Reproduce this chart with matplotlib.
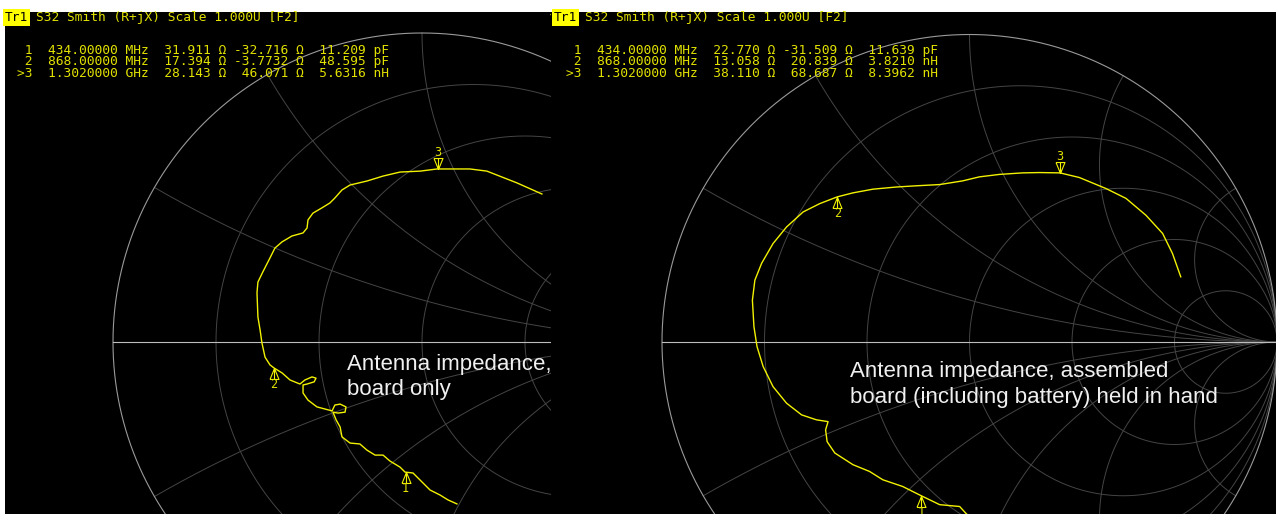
import numpy as np
import matplotlib.pyplot as plt
from matplotlib.path import Path

WIDTH, HEIGHT = 1276, 514
TOP = 12  # white strip above both screenshots

Z0 = 50.0

# Smith chart grid (normalised resistance circles, reactance arcs)
GRID_R = [0.2, 0.5, 1.0, 2.0, 5.0]
GRID_X = [0.268, 0.577, 1.0, 1.732, 3.732]

marker_ids = [" 1", " 2", ">3"]

# marker readout, bare board
board_freq = ["434.00000 MHz", "868.00000 MHz", "1.3020000 GHz"]
board_r = ["31.911", "17.394", "28.143"]
board_x = ["-32.716", "-3.7732", "46.071"]
board_lc = ["11.209 pF", "48.595 pF", "5.6316 nH"]

# marker readout, assembled board held in hand
hand_freq = ["434.00000 MHz", "868.00000 MHz", "1.3020000 GHz"]
hand_r = ["22.770", "13.058", "38.110"]
hand_x = ["-31.509", "20.839", "68.687"]
hand_lc = ["11.639 pF", "3.8210 nH", "8.3962 nH"]

# swept reflection coefficient, low to high frequency
board_gamma_re = [0.113, 0.084, 0.058, 0.026, -0.006, -0.029, -0.055, -0.071, -0.104, -0.126,
                  -0.152, -0.178, -0.201, -0.233, -0.259, -0.265, -0.278, -0.288, -0.272, -0.249,
                  -0.246, -0.265, -0.282, -0.291, -0.340, -0.369, -0.385, -0.385, -0.372, -0.349,
                  -0.343, -0.356, -0.379, -0.395, -0.427, -0.453, -0.479, -0.492, -0.508, -0.518,
                  -0.524, -0.531, -0.534, -0.531, -0.515, -0.492, -0.476, -0.453, -0.421, -0.385,
                  -0.372, -0.369, -0.353, -0.324, -0.298, -0.282, -0.259, -0.233, -0.178, -0.126,
                  -0.071, -0.006, 0.049, 0.155, 0.210, 0.307, 0.388]
board_gamma_im = [-0.524, -0.511, -0.495, -0.479, -0.447, -0.424, -0.421, -0.405, -0.385, -0.366,
                  -0.366, -0.350, -0.330, -0.327, -0.307, -0.275, -0.252, -0.227, -0.230, -0.227,
                  -0.210, -0.201, -0.204, -0.223, -0.210, -0.188, -0.165, -0.139, -0.136, -0.129,
                  -0.117, -0.113, -0.123, -0.136, -0.123, -0.100, -0.084, -0.074, -0.049, -0.003,
                  0.039, 0.081, 0.159, 0.194, 0.227, 0.272, 0.304, 0.324, 0.343, 0.353,
                  0.369, 0.395, 0.417, 0.434, 0.450, 0.466, 0.492, 0.508, 0.521, 0.537,
                  0.550, 0.553, 0.560, 0.560, 0.553, 0.515, 0.479]

hand_gamma_re = [0.020, -0.011, -0.032, -0.097, -0.130, -0.157, -0.217, -0.282, -0.325, -0.379,
                 -0.438, -0.463, -0.468, -0.460, -0.498, -0.546, -0.595, -0.639, -0.671, -0.691,
                 -0.701, -0.706, -0.698, -0.676, -0.639, -0.595, -0.541, -0.487, -0.430, -0.379,
                 -0.314, -0.238, -0.173, -0.097, -0.022, 0.032, 0.097, 0.173, 0.227, 0.294,
                 0.357, 0.444, 0.509, 0.574, 0.628, 0.660, 0.687]
hand_gamma_im = [-0.585, -0.558, -0.535, -0.529, -0.513, -0.500, -0.470, -0.448, -0.421, -0.399,
                 -0.361, -0.324, -0.286, -0.259, -0.253, -0.237, -0.199, -0.145, -0.080, -0.015,
                 0.050, 0.136, 0.201, 0.256, 0.320, 0.374, 0.423, 0.450, 0.472, 0.485,
                 0.497, 0.504, 0.508, 0.512, 0.524, 0.537, 0.545, 0.550, 0.551, 0.550,
                 0.535, 0.499, 0.467, 0.412, 0.353, 0.288, 0.212]

TRACE_YELLOW = "#f2f200"
TEXT_YELLOW = "#e2e200"
GRID_GRAY = "#454545"
MONO = "DejaVu Sans Mono"

# marker glyphs: apex sits on the trace point
M, L = Path.MOVETO, Path.LINETO
TRI_UP = Path([(-4.5, -11), (4.5, -11), (0, 0), (-4.5, -11), (0, 0), (0, -11)],
              [M, L, L, L, M, L])
TRI_DOWN = Path([(-4.5, 11), (4.5, 11), (0, 0), (-4.5, 11), (0, 0), (0, 11)],
                [M, L, L, L, M, L])


def fx(px):
    return px / WIDTH


def fy(py):
    return 1 - py / HEIGHT


def to_gamma(r_ohm, x_ohm):
    z = complex(r_ohm, x_ohm) / Z0
    g = (z - 1) / (z + 1)
    return g.real, g.imag


def draw_grid(ax):
    t = np.linspace(0, 2 * np.pi, 721)
    for r in GRID_R:
        c, rad = r / (r + 1), 1 / (r + 1)
        ax.plot(c + rad * np.cos(t), rad * np.sin(t), color=GRID_GRAY, lw=0.7)
    rr = np.concatenate([[0], np.logspace(-3, 4, 900)])
    for x in GRID_X:
        for sign in (1, -1):
            z = rr + 1j * sign * x
            g = (z - 1) / (z + 1)
            ax.plot(g.real, g.imag, color=GRID_GRAY, lw=0.7)
    ax.plot(np.cos(t), np.sin(t), color="#9a9a9a", lw=0.8)
    ax.plot([-1, 1], [0, 0], color="#bdbdbd", lw=0.8)


def add_panel(left_px, right_px, cx, cy, radius):
    ax = fig.add_axes([fx(left_px), 0, fx(right_px - left_px), (HEIGHT - TOP) / HEIGHT])
    ax.set_facecolor("black")
    ax.set_xlim((left_px - cx) / radius, (right_px - cx) / radius)
    ax.set_ylim((cy - HEIGHT) / radius, (cy - TOP) / radius)
    ax.set_xticks([])
    ax.set_yticks([])
    for spine in ax.spines.values():
        spine.set_visible(False)
    return ax


def draw_panel(ax, gre, gim, r_vals, x_vals):
    draw_grid(ax)
    ax.plot(gre, gim, color=TRACE_YELLOW, lw=1.0, solid_joinstyle="round")
    for i, (r, x) in enumerate(zip(r_vals, x_vals)):
        gx, gy = to_gamma(float(r), float(x))
        active = i == len(r_vals) - 1
        ax.plot(gx, gy, marker=TRI_DOWN if active else TRI_UP, markersize=15.8,
                markerfacecolor="none", markeredgecolor=TRACE_YELLOW, markeredgewidth=0.8)
        ax.annotate(str(i + 1), (gx, gy), xytext=(0, 12 if active else -12),
                    textcoords="offset points", ha="center", va="center",
                    family=MONO, fontsize=8.5, color=TEXT_YELLOW)


def draw_readout(x0, freq, r_vals, x_vals, lc):
    fig.text(fx(x0 + 5), fy(21), "Tr1", family=MONO, fontsize=9.3, color="black",
             va="baseline", ha="left",
             bbox=dict(boxstyle="square,pad=0.12", fc="#ffff00", ec="none"))
    fig.text(fx(x0 + 36), fy(21), "S32 Smith (R+jX) Scale 1.000U [F2]", family=MONO,
             fontsize=9.3, color=TEXT_YELLOW, va="baseline", ha="left")
    for i in range(len(freq)):
        value, unit = lc[i].split()
        row = f"{marker_ids[i]:>2}  {freq[i]:>13}{r_vals[i]:>8} Ω {x_vals[i]:>7} Ω{value:>8} {unit}"
        fig.text(fx(x0 + 17), fy(53.8 + 11.4 * i), row, family=MONO, fontsize=9.3,
                 color=TEXT_YELLOW, va="baseline", ha="left")


fig = plt.figure(figsize=(WIDTH / 100, HEIGHT / 100), dpi=100, facecolor="white")

ax_board = add_panel(5, 551, 422, 342, 309)
ax_hand = add_panel(551, 1276, 969.5, 342, 307.5)

draw_panel(ax_board, board_gamma_re, board_gamma_im, board_r, board_x)
draw_panel(ax_hand, hand_gamma_re, hand_gamma_im, hand_r, hand_x)

draw_readout(0, board_freq, board_r, board_x, board_lc)
draw_readout(549, hand_freq, hand_r, hand_x, hand_lc)
fig.text(fx(548.5), fy(19), "·", family=MONO, fontsize=6, color="#a0a000", va="baseline")

# captions
ax_board.text(fx(347), fy(370), "Antenna impedance,", transform=fig.transFigure,
              family="Liberation Sans", fontsize=16, color="#f0f0f0", va="baseline")
ax_board.text(fx(347), fy(395), "board only", transform=fig.transFigure,
              family="Liberation Sans", fontsize=16, color="#f0f0f0", va="baseline")
ax_hand.text(fx(850), fy(377), "Antenna impedance, assembled", transform=fig.transFigure,
             family="Liberation Sans", fontsize=16, color="#f0f0f0", va="baseline")
ax_hand.text(fx(850), fy(403), "board (including battery) held in hand", transform=fig.transFigure,
             family="Liberation Sans", fontsize=16, color="#f0f0f0", va="baseline")

fig.savefig("out.png", dpi=100, facecolor="white")
